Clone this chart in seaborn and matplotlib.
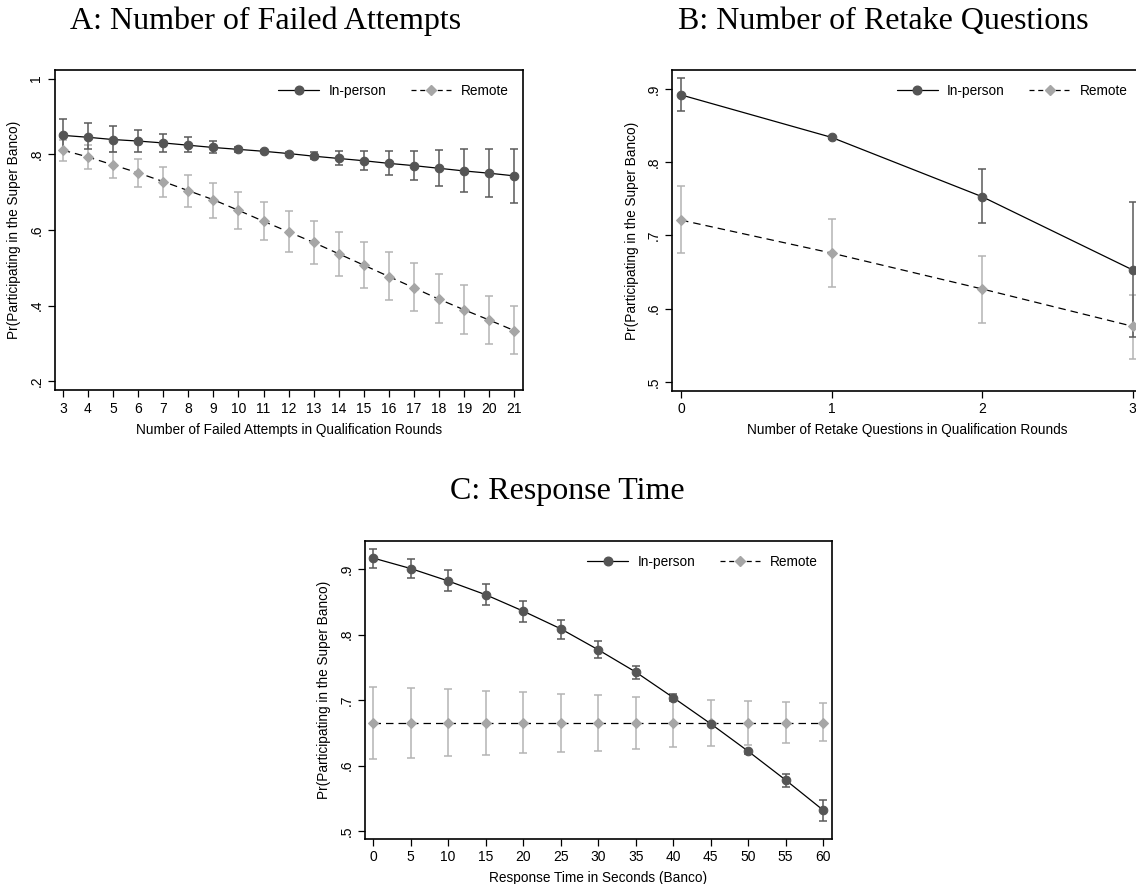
import numpy as np
import pandas as pd
import matplotlib
matplotlib.use("Agg")
import matplotlib.pyplot as plt
import seaborn as sns
from matplotlib.lines import Line2D

# Panel A: failed attempts
failed_x = [3, 4, 5, 6, 7, 8, 9, 10, 11, 12, 13, 14, 15, 16, 17, 18, 19, 20, 21]
failed_inp = [0.850, 0.845, 0.839, 0.835, 0.830, 0.824, 0.818, 0.813, 0.808, 0.802,
              0.795, 0.789, 0.783, 0.776, 0.770, 0.763, 0.756, 0.750, 0.743]
failed_inp_hi = [0.892, 0.883, 0.874, 0.864, 0.854, 0.845, 0.835, 0.820, 0.811, 0.806,
                 0.805, 0.808, 0.808, 0.809, 0.810, 0.811, 0.813, 0.814, 0.815]
failed_inp_lo = [0.809, 0.813, 0.806, 0.807, 0.807, 0.806, 0.803, 0.807, 0.805, 0.798,
                 0.787, 0.771, 0.759, 0.745, 0.731, 0.717, 0.701, 0.687, 0.670]
failed_rem = [0.811, 0.793, 0.772, 0.751, 0.728, 0.704, 0.680, 0.652, 0.623, 0.595,
              0.567, 0.537, 0.507, 0.477, 0.447, 0.417, 0.389, 0.362, 0.334]
failed_rem_hi = [0.839, 0.824, 0.806, 0.788, 0.767, 0.746, 0.724, 0.700, 0.675, 0.649,
                 0.623, 0.596, 0.568, 0.541, 0.512, 0.484, 0.454, 0.426, 0.398]
failed_rem_lo = [0.783, 0.762, 0.738, 0.713, 0.688, 0.661, 0.632, 0.602, 0.573, 0.542,
                 0.510, 0.479, 0.447, 0.416, 0.385, 0.355, 0.326, 0.298, 0.272]

# Panel B: retake questions
retake_x = [0, 1, 2, 3]
retake_inp = [0.892, 0.834, 0.753, 0.653]
retake_inp_hi = [0.915, 0.836, 0.791, 0.746]
retake_inp_lo = [0.870, 0.832, 0.717, 0.561]
retake_rem = [0.721, 0.676, 0.627, 0.576]
retake_rem_hi = [0.767, 0.722, 0.672, 0.619]
retake_rem_lo = [0.676, 0.630, 0.581, 0.532]

# Panel C: response time
resp_x = [0, 5, 10, 15, 20, 25, 30, 35, 40, 45, 50, 55, 60]
resp_inp = [0.917, 0.901, 0.882, 0.861, 0.836, 0.809, 0.777, 0.743, 0.704, 0.664,
            0.622, 0.578, 0.532]
resp_inp_hi = [0.931, 0.916, 0.898, 0.877, 0.852, 0.823, 0.790, 0.752, 0.710, 0.666,
               0.626, 0.587, 0.547]
resp_inp_lo = [0.902, 0.886, 0.867, 0.845, 0.820, 0.794, 0.764, 0.733, 0.699, 0.662,
               0.618, 0.568, 0.516]
resp_rem = [0.6645] * 13
resp_rem_hi = [0.720, 0.718, 0.717, 0.714, 0.712, 0.710, 0.708, 0.705, 0.703, 0.701,
               0.699, 0.697, 0.695]
resp_rem_lo = [0.610, 0.612, 0.615, 0.617, 0.619, 0.621, 0.623, 0.626, 0.628, 0.630,
               0.632, 0.635, 0.637]

sns.set_style("ticks")
plt.rcParams["font.family"] = ["Liberation Sans", "DejaVu Sans"]
plt.rcParams["text.color"] = "black"
plt.rcParams["axes.labelcolor"] = "black"
plt.rcParams["xtick.color"] = "black"
plt.rcParams["ytick.color"] = "black"

INP_MK = "#555555"
INP_CI = "#5a5a5a"
REM_MK = "#a6a6a6"
REM_CI = "#b4b4b4"


def draw_panel(ax, x, inp, inp_lo, inp_hi, rem, rem_lo, rem_hi,
               xticks, yticks, ylabels, xlim, ylim, xlabel):
    df = pd.DataFrame({"x": x, "inp": inp, "rem": rem})
    ax.errorbar(x, rem, yerr=[np.subtract(rem, rem_lo), np.subtract(rem_hi, rem)],
                fmt="none", ecolor=REM_CI, elinewidth=1.1, capsize=3.2, capthick=1.1, zorder=2)
    ax.errorbar(x, inp, yerr=[np.subtract(inp, inp_lo), np.subtract(inp_hi, inp)],
                fmt="none", ecolor=INP_CI, elinewidth=1.1, capsize=3.2, capthick=1.1, zorder=2)
    sns.lineplot(data=df, x="x", y="rem", ax=ax, color="black", lw=0.9,
                 linestyle=(0, (6, 4)), marker="D", markersize=5.2,
                 markerfacecolor=REM_MK, markeredgecolor=REM_MK, zorder=3)
    sns.lineplot(data=df, x="x", y="inp", ax=ax, color="black", lw=0.9,
                 marker="o", markersize=6.2,
                 markerfacecolor=INP_MK, markeredgecolor=INP_MK, zorder=4)
    ax.set_xlim(*xlim)
    ax.set_ylim(*ylim)
    ax.set_xticks(xticks)
    ax.set_xticklabels([str(t) for t in xticks], fontsize=10)
    ax.set_yticks(yticks)
    ax.set_yticklabels(ylabels, fontsize=10, rotation=90, va="center")
    ax.tick_params(direction="out", length=5, width=0.9, color="black", pad=3)
    for s in ax.spines.values():
        s.set_visible(True)
        s.set_linewidth(1.2)
        s.set_color("black")
    ax.set_xlabel(xlabel, fontsize=9.8, labelpad=5)
    ax.set_ylabel("Pr(Participating in the Super Banco)", fontsize=9.8, labelpad=6)
    handles = [
        Line2D([], [], color="black", lw=0.9, marker="o", markersize=6.2,
               markerfacecolor=INP_MK, markeredgecolor=INP_MK),
        Line2D([], [], color="black", lw=0.9, linestyle=(0, (4, 3)), marker="D",
               markersize=5.2, markerfacecolor=REM_MK, markeredgecolor=REM_MK),
    ]
    ax.legend(handles, ["In-person", "Remote"], loc="upper right", ncol=2,
              frameon=False, fontsize=9.8, handlelength=3.0, handletextpad=0.7,
              columnspacing=1.8, borderaxespad=0.6)


fig = plt.figure(figsize=(11.36, 8.84), dpi=100)
axA = fig.add_axes([0.0480, 0.5583, 0.4121, 0.3622])
axB = fig.add_axes([0.5918, 0.5580, 0.4129, 0.3624])
axC = fig.add_axes([0.3210, 0.0509, 0.4111, 0.3371])

draw_panel(axA, failed_x, failed_inp, failed_inp_lo, failed_inp_hi,
           failed_rem, failed_rem_lo, failed_rem_hi,
           failed_x, [0.2, 0.4, 0.6, 0.8, 1.0], [".2", ".4", ".6", ".8", "1"],
           (2.67, 21.33), (0.176, 1.022), "Number of Failed Attempts in Qualification Rounds")
draw_panel(axB, retake_x, retake_inp, retake_inp_lo, retake_inp_hi,
           retake_rem, retake_rem_lo, retake_rem_hi,
           retake_x, [0.5, 0.6, 0.7, 0.8, 0.9], [".5", ".6", ".7", ".8", ".9"],
           (-0.058, 3.058), (0.488, 0.9255), "Number of Retake Questions in Qualification Rounds")
draw_panel(axC, resp_x, resp_inp, resp_inp_lo, resp_inp_hi,
           resp_rem, resp_rem_lo, resp_rem_hi,
           resp_x, [0.5, 0.6, 0.7, 0.8, 0.9], [".5", ".6", ".7", ".8", ".9"],
           (-1.13, 61.13), (0.488, 0.943), "Response Time in Seconds (Banco)")

title_font = dict(family=["Liberation Serif", "DejaVu Serif"], fontsize=23, ha="center", va="center")
fig.text(266 / 1136, 1 - 21 / 884, "A: Number of Failed Attempts", **title_font)
fig.text(883 / 1136, 1 - 21 / 884, "B: Number of Retake Questions", **title_font)
fig.text(567 / 1136, 1 - 491 / 884, "C: Response Time", **title_font)

fig.savefig("out.png", dpi=100, facecolor="white")
